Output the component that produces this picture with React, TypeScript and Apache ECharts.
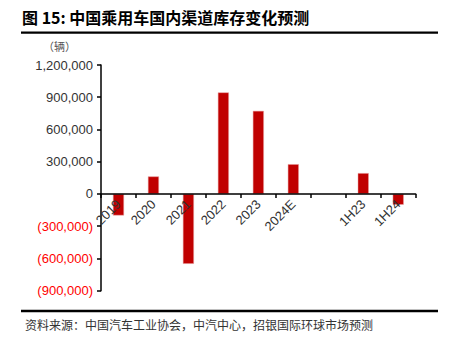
import React, { useEffect, useRef } from "react";
import * as echarts from "echarts";

const categories = ["2019", "2020", "2021", "2022", "2023", "2024E", "", "1H23", "1H24"];
const inventoryChange = [-200000, 163000, -650000, 945000, 773000, 277000, null, 194000, -100000];
const yMin = -900000;
const yMax = 1200000;
const yInterval = 300000;

const titleText = "图 15: 中国乘用车国内渠道库存变化预测";
const unitText = "（辆）";
const sourceText = "资料来源：中国汽车工业协会，中汽中心，招银国际环球市场预测";

const fmt = (v: number) => {
  const s = Math.abs(v).toLocaleString("en-US");
  return v < 0 ? "(" + s + ")" : s;
};

const gridTop = 65;
const gridBottomY = 290.7;
const zeroOffset = -((gridBottomY - gridTop) * (0 - yMin)) / (yMax - yMin);

export default function App() {
  const ref = useRef<HTMLDivElement>(null);
  useEffect(() => {
    if (!ref.current) return;
    const chart = echarts.init(ref.current, undefined, { renderer: "svg" });
    chart.setOption({
      animation: false,
      textStyle: { fontFamily: "Liberation Sans, Arial, sans-serif" },
      grid: { left: 101, right: 35.3, top: gridTop, bottom: 350 - gridBottomY },
      xAxis: {
        type: "category",
        data: categories,
        offset: zeroOffset,
        z: 5,
        axisLine: { onZero: false, lineStyle: { color: "#000", width: 1.5 } },
        axisTick: { show: true, interval: 0, alignWithLabel: false, length: 4, lineStyle: { color: "#000", width: 1.5 } },
        axisLabel: { interval: 0, rotate: 45, fontSize: 13, color: "#333", margin: 8 },
      },
      yAxis: {
        type: "value",
        min: yMin,
        max: yMax,
        interval: yInterval,
        splitLine: { show: false },
        axisLine: { show: true, lineStyle: { color: "#000", width: 1.5 } },
        axisTick: { show: true, length: 4, lineStyle: { color: "#000", width: 1.5 } },
        axisLabel: {
          fontSize: 13,
          margin: 8,
          formatter: (v: number) => (v < 0 ? "{neg|" + fmt(v) + "}" : fmt(v)),
          color: "#333",
          rich: { neg: { color: "#FF0000", fontSize: 13 } },
        },
      },
      series: [
        {
          type: "bar",
          data: inventoryChange,
          barWidth: 11,
          itemStyle: { color: "#C00000", borderColor: "#e8a0a0", borderWidth: 0.5 },
        },
      ],
      graphic: [
        {
          type: "text",
          left: 22,
          top: 9,
          style: {
            text: titleText,
            font: "bold 16px 'Noto Sans CJK SC', sans-serif",
            fill: "#000",
          },
        },
        {
          type: "line",
          shape: { x1: 21, y1: 32.7, x2: 438, y2: 32.7 },
          style: { stroke: "#000", lineWidth: 2.3 },
        },
        {
          type: "text",
          left: 43,
          top: 40,
          style: { text: unitText, font: "11px 'Noto Sans CJK SC', sans-serif", fill: "#555" },
        },
        {
          type: "line",
          shape: { x1: 21, y1: 311, x2: 438, y2: 311 },
          style: { stroke: "#000", lineWidth: 2.3 },
        },
        {
          type: "text",
          left: 25,
          top: 318,
          style: { text: sourceText, font: "12px 'Noto Sans CJK SC', sans-serif", fill: "#333" },
        },
      ],
    });
    return () => chart.dispose();
  }, []);
  return (
    <div
      ref={ref}
      style={{ position: "absolute", left: 0, top: 0, width: 451, height: 350 }}
    />
  );
}
